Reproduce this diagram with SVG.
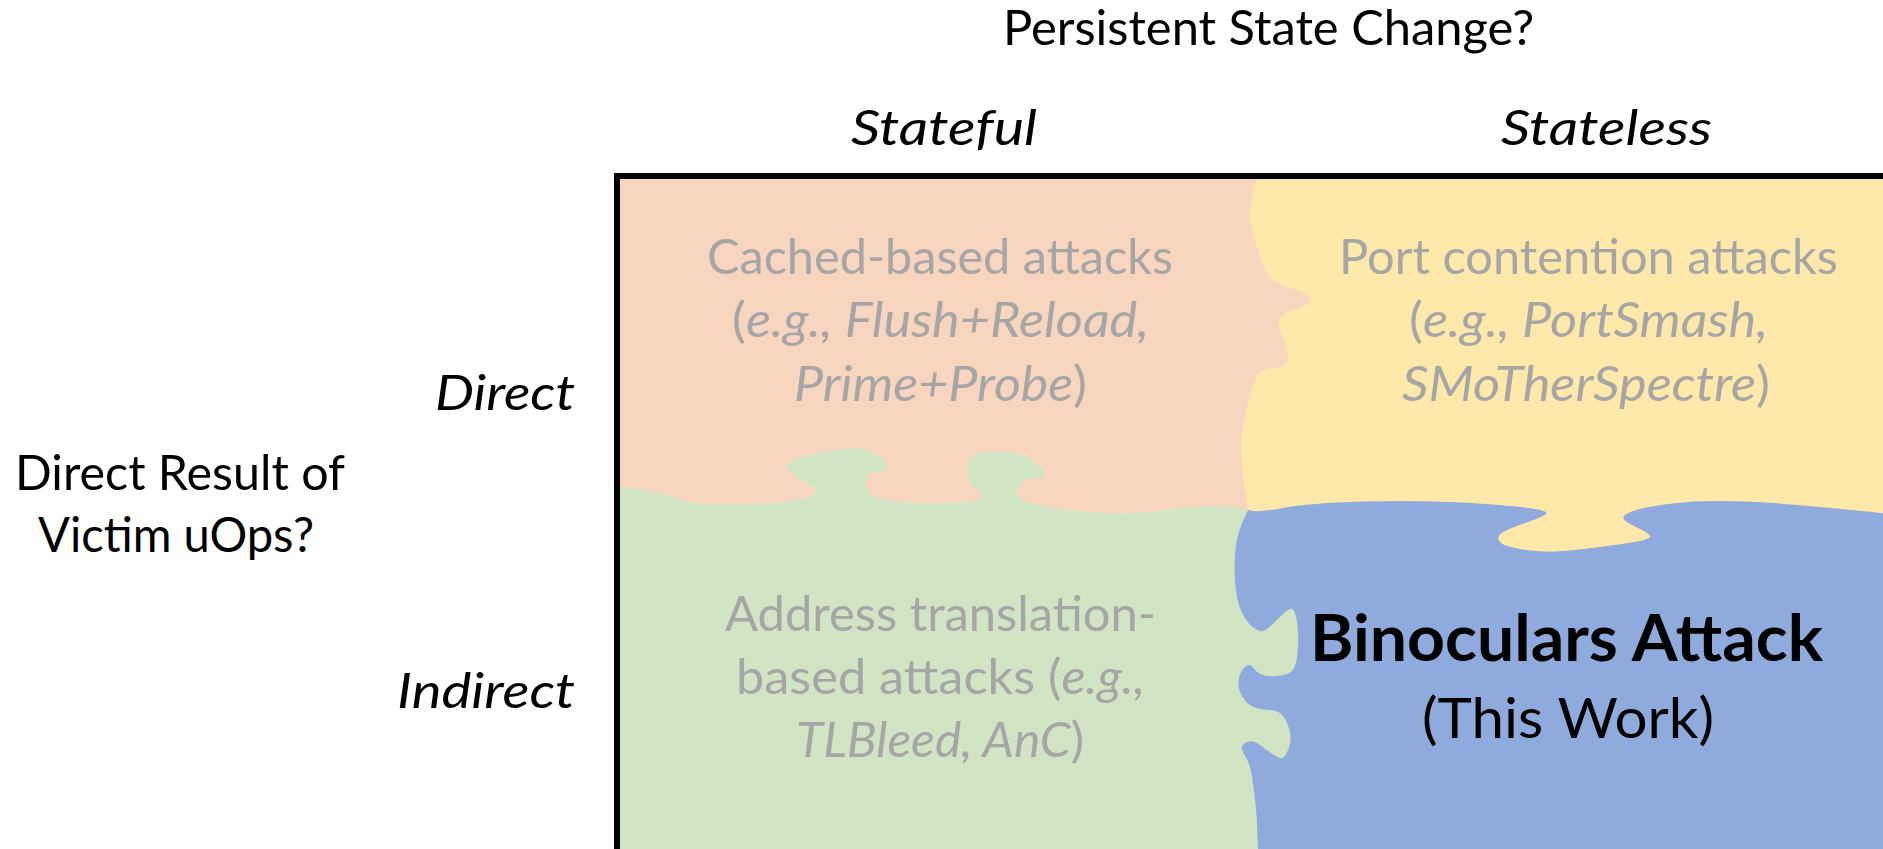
<svg xmlns="http://www.w3.org/2000/svg" width="1883" height="849" viewBox="0 0 1883 849">
  <style>
    text { font-family: Lato, "Open Sans", "Liberation Sans", sans-serif; }
    .lbl { font-size: 48px; fill: #000000; }
    .it { font-style: italic; }
    .gray { font-size: 48px; fill: #A6A6A6; }
    .hero { font-size: 65px; font-weight: bold; fill: #000000; }
    .sub { font-size: 56px; fill: #000000; }
  </style>
  <rect width="1883" height="849" fill="#FFFFFF"/>

  <!-- axis labels -->
  <g id="axis-labels">
    <text class="lbl" x="1003" y="45" textLength="531" lengthAdjust="spacingAndGlyphs">Persistent State Change?</text>
    <text class="lbl it" x="851" y="145" textLength="186" lengthAdjust="spacingAndGlyphs">Stateful</text>
    <text class="lbl it" x="1501" y="145" textLength="211" lengthAdjust="spacingAndGlyphs">Stateless</text>
    <text class="lbl it" x="435" y="410" textLength="140" lengthAdjust="spacingAndGlyphs">Direct</text>
    <text class="lbl it" x="397" y="708" textLength="178" lengthAdjust="spacingAndGlyphs">Indirect</text>
    <text class="lbl" x="15" y="490" textLength="330" lengthAdjust="spacingAndGlyphs">Direct Result of</text>
    <text class="lbl" x="38" y="552" textLength="276" lengthAdjust="spacingAndGlyphs">Victim uOps?</text>
  </g>

  <!-- puzzle quadrants -->
  <g id="quadrant-stateful-direct">
    <rect x="617" y="176" width="1273" height="673" fill="#F7D5BE"/>
  </g>
  <g id="quadrant-stateless-direct">
    <path fill="#FEE8AA" d="M1258,176 L1257,179 Q1248,207 1250,220 Q1252,233 1258.5,253 Q1265,273 1271.5,279 Q1278,285 1291.5,288.5 Q1305,292 1308.5,295.5 Q1312,299 1308.5,302.5 Q1305,306 1294,309.5 Q1283,313 1280,318 Q1277,323 1281,333 Q1285,343 1287,351.5 Q1289,360 1286.5,363.5 Q1284,367 1272,368 Q1260,369 1256,378 Q1252,387 1248,403.5 Q1244,420 1242,431.5 Q1240,443 1241.5,460 Q1243,477 1248,510 L1250,600 L1890,600 L1890,176 Z"/>
  </g>
  <g id="quadrant-stateless-indirect">
    <path fill="#8FAADC" d="M1248,510 Q1257,513 1283,508 Q1309,503 1363.5,501.5 Q1418,500 1461.5,502.5 Q1505,505 1528,508 Q1551,511 1545.5,514.5 Q1540,518 1522.5,524 Q1505,530 1500.5,534 Q1496,538 1500.5,542.5 Q1505,547 1526.5,550 Q1548,553 1570,550.5 Q1592,548 1621.5,544 Q1651,540 1650,536.5 Q1649,533 1637,527.5 Q1625,522 1623.5,518.5 Q1622,515 1633,511 Q1644,507 1672.5,503.5 Q1701,500 1744.5,501.5 Q1788,503 1890,514 L1890,849 L1210,849 L1210,520 Z"/>
  </g>
  <g id="quadrant-stateful-indirect">
    <path fill="#D1E4C4" d="M617,487 Q645,488 662.5,494 Q680,500 696,502.5 Q712,505 749.5,504 Q787,503 800.5,499 Q814,495 816.5,492.5 Q819,490 805.5,482.5 Q792,475 788.5,470 Q785,465 790.5,461 Q796,457 823,452 Q850,447 859,448.5 Q868,450 878,456 Q888,462 888,465 Q888,468 883.5,470.5 Q879,473 874.5,472.5 Q870,472 868,476 Q866,480 867,486.5 Q868,493 877,497.5 Q886,502 921.5,502.5 Q957,503 969.5,501.5 Q982,500 982,496.5 Q982,493 976,489 Q970,485 968,476 Q966,467 968.5,461 Q971,455 979.5,453.5 Q988,452 1004,452 Q1020,452 1027.5,457 Q1035,462 1040.5,467.5 Q1046,473 1044,476.5 Q1042,480 1037.5,478.5 Q1033,477 1027.5,479.5 Q1022,482 1018.5,487.5 Q1015,493 1018.5,496.5 Q1022,500 1034,503.5 Q1046,507 1068.5,510 Q1091,513 1113.5,513.5 Q1136,514 1180.5,508.5 Q1225,503 1248,510 Q1238,530 1236,545 Q1234,560 1235,580 Q1236,600 1241.5,611.5 Q1247,623 1254,628 Q1261,633 1265.5,630 Q1270,627 1280,617 Q1290,606 1293,609.5 Q1296,612 1297.5,626 Q1299,640 1297.5,653.5 Q1296,667 1292,671 Q1288,675 1277.5,676 Q1267,677 1261.5,674.5 Q1256,672 1253,667.5 Q1250,663 1245.5,666.5 Q1241,670 1239,678.5 Q1237,687 1242,696 Q1247,705 1255,707.5 Q1263,710 1269.5,710 Q1276,710 1280.5,713.5 Q1285,717 1288,725 Q1291,733 1290.5,740 Q1290,747 1286.5,753.5 Q1283,761 1276.5,756.5 Q1270,753 1262,746.5 Q1254,740 1248.5,741.5 Q1243,743 1242,746.5 Q1241,750 1245.5,756.5 Q1250,763 1252,776.5 Q1254,790 1255.5,803.5 Q1257,817 1258,849 L617,849 Z"/>
  </g>

  <!-- outer frame -->
  <rect x="617" y="176" width="1290" height="676" fill="none" stroke="#000000" stroke-width="6"/>

  <!-- quadrant captions -->
  <g id="caption-cache">
    <text class="gray" x="707" y="274" textLength="466" lengthAdjust="spacingAndGlyphs">Cached-based attacks</text>
    <text class="gray" x="732" y="337" textLength="417" lengthAdjust="spacingAndGlyphs">(<tspan class="it">e.g., Flush+Reload,</tspan></text>
    <text class="gray" x="794" y="401" textLength="293" lengthAdjust="spacingAndGlyphs"><tspan class="it">Prime+Probe</tspan>)</text>
  </g>
  <g id="caption-port">
    <text class="gray" x="1339" y="274" textLength="499" lengthAdjust="spacingAndGlyphs">Port contention attacks</text>
    <text class="gray" x="1409" y="337" textLength="359" lengthAdjust="spacingAndGlyphs">(<tspan class="it">e.g., PortSmash,</tspan></text>
    <text class="gray" x="1402" y="401" textLength="368" lengthAdjust="spacingAndGlyphs"><tspan class="it">SMoTherSpectre</tspan>)</text>
  </g>
  <g id="caption-translation">
    <text class="gray" x="725" y="631" textLength="431" lengthAdjust="spacingAndGlyphs">Address translation-</text>
    <text class="gray" x="736" y="694" textLength="409" lengthAdjust="spacingAndGlyphs">based attacks (<tspan class="it">e.g.,</tspan></text>
    <text class="gray" x="796" y="757" textLength="288" lengthAdjust="spacingAndGlyphs"><tspan class="it">TLBleed, AnC</tspan>)</text>
  </g>
  <g id="caption-binoculars">
    <text class="hero" x="1310" y="661" textLength="513" lengthAdjust="spacingAndGlyphs">Binoculars Attack</text>
    <text class="sub" x="1422" y="738" textLength="292" lengthAdjust="spacingAndGlyphs">(This Work)</text>
  </g>
</svg>
